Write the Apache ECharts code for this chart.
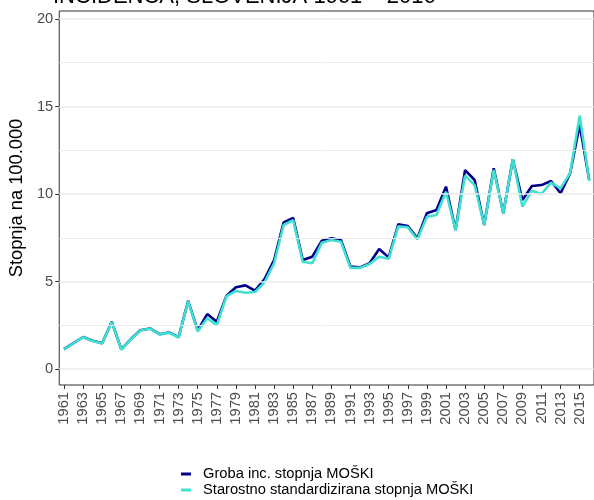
<!DOCTYPE html>
<html>
<head>
<meta charset="utf-8">
<script src="https://cdn.jsdelivr.net/npm/echarts@6/dist/echarts.min.js"></script>
<style>
  html, body { margin: 0; padding: 0; background: #fff; }
  #chart { width: 594px; height: 500px; }
</style>
</head>
<body>
<div id="chart"></div>
<script>
const years = [];
for (let y = 1961; y <= 2016; y++) years.push(String(y));

const crudeRate = [
  1.14, 1.48, 1.83, 1.61, 1.47, 2.70, 1.12, 1.71, 2.21, 2.32,
  1.99, 2.09, 1.82, 3.89, 2.20, 3.14, 2.70, 4.17, 4.67, 4.78,
  4.48, 5.14, 6.23, 8.38, 8.63, 6.23, 6.42, 7.33, 7.47, 7.37,
  5.85, 5.81, 6.04, 6.86, 6.38, 8.27, 8.17, 7.47, 8.90, 9.09,
  10.42, 7.94, 11.37, 10.80, 8.23, 11.47, 8.90, 11.98, 9.66, 10.46,
  10.51, 10.74, 10.04, 11.18, 13.94, 10.80
];

const ageStdRate = [
  1.13, 1.47, 1.82, 1.60, 1.46, 2.69, 1.11, 1.70, 2.20, 2.31,
  1.98, 2.08, 1.80, 3.87, 2.15, 2.90, 2.51, 4.15, 4.46, 4.36,
  4.40, 4.95, 6.04, 8.23, 8.50, 6.13, 6.04, 7.22, 7.37, 7.27,
  5.78, 5.78, 6.00, 6.42, 6.30, 8.15, 8.10, 7.40, 8.70, 8.80,
  10.13, 7.94, 11.05, 10.51, 8.23, 11.37, 8.90, 11.98, 9.28, 10.19,
  10.00, 10.65, 10.32, 11.20, 14.48, 10.75
];

const yTicks = [0, 5, 10, 15, 20];
const minorGrid = [2.5, 7.5, 12.5, 17.5];

const seriesNames = ["Groba inc. stopnja MOŠKI", "Starostno standardizirana stopnja MOŠKI"];
const FONT = "Liberation Sans, Arial, sans-serif";
const TICK_SIZE = 14.7;

const chart = echarts.init(document.getElementById("chart"), null, { renderer: "canvas" });

// ggplot-like grid: major lines a bit thicker than minor ones
const gridLines = yTicks
  .map((v) => ({ yAxis: v, lineStyle: { width: 1.6 } }))
  .concat(minorGrid.map((v) => ({ yAxis: v, lineStyle: { width: 0.9 } })));

chart.setOption({
  animation: false,
  backgroundColor: "#fff",
  title: {
    text: "INCIDENCA, SLOVENIJA 1961 – 2016",
    left: 48,
    top: -19,
    textStyle: { fontFamily: FONT, fontSize: 22, fontWeight: "normal", color: "#000" }
  },
  grid: {
    left: 53,
    top: 11,
    width: 543,
    height: 374,
    show: true,
    borderColor: "#333",
    borderWidth: 1,
    containLabel: false
  },
  legend: {
    data: seriesNames,
    orient: "vertical",
    left: 181,
    top: 466,
    height: 34,
    padding: 0,
    itemWidth: 10,
    itemHeight: 3,
    itemGap: 0,
    icon: "rect",
    textStyle: {
      fontFamily: FONT,
      fontSize: TICK_SIZE,
      color: "#000",
      lineHeight: 16,
      padding: [0, 0, 0, 7]
    }
  },
  xAxis: {
    type: "category",
    data: years,
    boundaryGap: true,
    axisLine: { show: false, onZero: false },
    axisTick: {
      show: true,
      interval: 1,
      alignWithLabel: true,
      length: 4,
      lineStyle: { color: "#333" }
    },
    axisLabel: {
      interval: 1,
      rotate: 90,
      margin: 7,
      fontFamily: FONT,
      fontSize: TICK_SIZE,
      color: "#4d4d4d"
    },
    splitLine: { show: false }
  },
  yAxis: {
    type: "value",
    min: -0.914,
    max: 20.457,
    name: "Stopnja na 100.000",
    nameLocation: "middle",
    nameRotate: 90,
    nameGap: 25,
    nameTextStyle: { fontFamily: FONT, fontSize: 18.3, color: "#000" },
    axisLine: { show: false },
    axisTick: {
      show: true,
      length: 4,
      customValues: yTicks,
      lineStyle: { color: "#333" }
    },
    axisLabel: {
      customValues: yTicks,
      margin: 6,
      fontFamily: FONT,
      fontSize: TICK_SIZE,
      color: "#4d4d4d"
    },
    splitLine: { show: false }
  },
  series: [
    {
      name: "grid",
      type: "line",
      data: [],
      z: 1,
      silent: true,
      markLine: {
        silent: true,
        symbol: ["none", "none"],
        label: { show: false },
        lineStyle: { color: "#ebebeb", width: 1, type: "solid" },
        data: gridLines
      }
    },
    {
      name: seriesNames[0],
      type: "line",
      data: crudeRate,
      z: 3,
      showSymbol: false,
      symbol: "none",
      color: "#00008b",
      lineStyle: { color: "#00008b", width: 2.6 }
    },
    {
      name: seriesNames[1],
      type: "line",
      data: ageStdRate,
      z: 4,
      showSymbol: false,
      symbol: "none",
      color: "#40e0d0",
      lineStyle: { color: "#40e0d0", width: 2.6 }
    }
  ]
});
</script>
</body>
</html>
